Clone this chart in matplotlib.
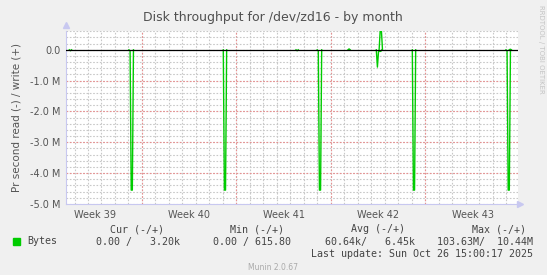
import matplotlib.pyplot as plt
from matplotlib.patches import Rectangle

# time in days relative to Mon Sep 29 2025 00:00, values in M bytes/s
x_min, x_max = -5.63, 27.87
y_min, y_max = -5.0, 0.62
sample = 1 / 12  # 2 hour consolidation

week_labels = ['Week 39', 'Week 40', 'Week 41', 'Week 42', 'Week 43']
week_starts = [-7, 0, 7, 14, 21]
y_ticks = [0, -1, -2, -3, -4, -5]
y_tick_labels = ['0.0', '-1.0 M', '-2.0 M', '-3.0 M', '-4.0 M', '-5.0 M']

# read events: first sample time + consecutive sample values (plotted negative)
read_start = [-5.30, -0.88, 6.11, 11.50, 13.07, 17.45, 20.12, 27.06]
read_vals = [[0.03], [0.04, 4.55, 4.55], [4.55, 4.55], [0.03],
             [0.04, 4.55, 4.55], [0.56, 0.05, 0.05, 0.05], [4.55, 4.55],
             [0.04, 4.55, 4.55]]
# write events (plotted positive)
write_start = [15.35, 17.66, 27.30]
write_vals = [[0.03], [0.65, 0.65], [0.02]]

legend_headers = ['Cur (-/+)', 'Min (-/+)', 'Avg (-/+)', 'Max (-/+)']
legend_values = ['0.00 /   3.20k', '0.00 / 615.80', '60.64k/   6.45k', '103.63M/  10.44M']
last_update = 'Last update: Sun Oct 26 15:00:17 2025'

W, H = 547, 275
fig = plt.figure(figsize=(W / 100, H / 100), dpi=100, facecolor='#f0f0f0')
ax = fig.add_axes([66 / W, 1 - 204 / H, (518 - 66) / W, (204 - 30.7) / H])
ax.set_facecolor('white')
ax.set_xlim(x_min, x_max)
ax.set_ylim(y_min, y_max)

# grid: minor gray every day / 0.2M, major red every week / 1M
dots = (0, (1.5, 1.5))
for d in range(-5, 28):
    ax.axvline(d, color='#c8c8c8', lw=0.8, ls=dots, zorder=1)
for w in week_starts[1:]:
    ax.axvline(w, color='#e89090', lw=0.8, ls=dots, zorder=1)
for i in range(-25, 4):
    ax.axhline(i * 0.2, color='#c8c8c8', lw=0.8, ls=dots, zorder=1)
for v in y_ticks[1:-1]:
    ax.axhline(v, color='#e89090', lw=0.8, ls=dots, zorder=1)


def draw_events(starts, vals, sign):
    for t0, vs in zip(starts, vals):
        xs = [t0 - sample] + [t0 + k * sample for k in range(len(vs))] + [t0 + len(vs) * sample]
        ys = [0] + [sign * v for v in vs] + [0]
        ax.plot(xs, ys, color='#00cc00', lw=1.0, zorder=3)


draw_events(read_start, read_vals, -1)
draw_events(write_start, write_vals, 1)
ax.axhline(0, color='black', lw=0.9, zorder=4)

for s in ['top', 'right']:
    ax.spines[s].set_visible(False)
for s in ['left', 'bottom']:
    ax.spines[s].set_color('#c8c8f0')
    ax.spines[s].set_linewidth(0.8)
ax.plot([0], [1.035], marker='^', color='#c8c8f0', ms=4, transform=ax.transAxes, clip_on=False)
ax.plot([1.005], [0], marker='>', color='#c8c8f0', ms=4, transform=ax.transAxes, clip_on=False)

ax.set_yticks(y_ticks)
ax.set_yticklabels(y_tick_labels)
ax.set_xticks([w + 3.5 for w in week_starts])
ax.set_xticklabels(week_labels)
ax.tick_params(length=0, labelsize=7, colors='#555555', pad=4)
ax.set_ylabel('Pr second read (-) / write (+)', fontsize=7.5, color='#555555', labelpad=6)

fig.text(273 / W, 1 - 18 / H, 'Disk throughput for /dev/zd16 - by month',
         ha='center', va='center', fontsize=9, color='#505050')
fig.text(541 / W, 1 - 5 / H, 'RRDTOOL / TOBI OETIKER', rotation=270,
         ha='center', va='top', fontsize=5, color='#c4c4c4')

mono = dict(family='DejaVu Sans Mono', fontsize=7.2, color='#444444', va='center')
fig.add_artist(Rectangle((13 / W, 1 - 245 / H), 7 / W, 7 / H, color='#00cc00',
                         transform=fig.transFigure))
fig.text(27 / W, 1 - 241.5 / H, 'Bytes', ha='left', **mono)
for txt, xr in zip(legend_headers, [164, 284, 405, 526]):
    fig.text(xr / W, 1 - 229 / H, txt, ha='right', **mono)
for txt, xr in zip(legend_values, [180, 291, 415, 533]):
    fig.text(xr / W, 1 - 241.5 / H, txt, ha='right', **mono)
fig.text(533 / W, 1 - 254.3 / H, last_update, ha='right', **mono)
fig.text(273 / W, 1 - 267.5 / H, 'Munin 2.0.67', ha='center', va='center',
         fontsize=5.5, color='#aaaaaa')

plt.savefig('out.png', dpi=100, facecolor=fig.get_facecolor())
